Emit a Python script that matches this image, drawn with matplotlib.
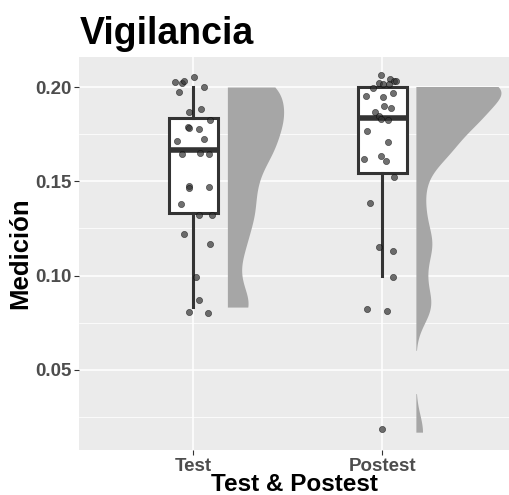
import numpy as np
import matplotlib
matplotlib.use("Agg")
import matplotlib.pyplot as plt
from matplotlib.ticker import MultipleLocator

plt.rcParams["font.family"] = ["Liberation Sans", "DejaVu Sans"]

groups = ["Test", "Postest"]

test_vals = [0.2000, 0.2000, 0.2000, 0.2000, 0.2000, 0.2000, 0.1833, 0.1833,
             0.1833, 0.1833, 0.1833, 0.1833, 0.1667, 0.1667, 0.1667, 0.1667,
             0.1667, 0.1500, 0.1500, 0.1500, 0.1333, 0.1333, 0.1333, 0.1167,
             0.1167, 0.1000, 0.0833, 0.0833, 0.0833]
post_vals = [0.2000, 0.2000, 0.2000, 0.2000, 0.2000, 0.2000, 0.2000, 0.2000,
             0.2000, 0.2000, 0.2000, 0.1833, 0.1833, 0.1833, 0.1833, 0.1833,
             0.1833, 0.1833, 0.1667, 0.1667, 0.1667, 0.1667, 0.1500, 0.1333,
             0.1167, 0.1167, 0.1000, 0.0833, 0.0833, 0.0167]

# jitter de los puntos
test_dx = [-0.095, -0.059, -0.051, 0.002, -0.077, 0.054, -0.021, 0.041,
           0.089, -0.030, -0.021, 0.028, -0.089, 0.054, -0.059, 0.037,
           0.081, -0.021, -0.021, 0.081, -0.065, 0.032, 0.098, -0.047,
           0.089, 0.014, 0.032, -0.025, 0.077]
test_dy = [0.0028, 0.0020, 0.0033, 0.0055, -0.0025, -0.0002, 0.0036, 0.0049,
           -0.0008, -0.0047, -0.0052, -0.0054, 0.0048, 0.0059, -0.0022, -0.0019,
           -0.0022, -0.0023, -0.0037, -0.0030, 0.0047, -0.0013, -0.0013, 0.0055,
           -0.0001, -0.0006, 0.0036, -0.0028, -0.0031]
post_dx = [-0.007, 0.041, 0.063, 0.072, -0.019, 0.005, 0.037, -0.051,
           -0.089, 0.002, 0.054, 0.011, 0.046, -0.038, -0.019, -0.007,
           0.032, -0.081, 0.032, -0.098, -0.007, 0.019, 0.063, -0.065,
           -0.016, 0.054, 0.058, -0.081, 0.026, -0.004]
post_dy = [0.0064, 0.0041, 0.0033, 0.0032, 0.0020, 0.0016, 0.0016, -0.0007,
           -0.0046, -0.0051, -0.0030, 0.0066, 0.0057, 0.0033, 0.0013, -0.0003,
           -0.0008, -0.0065, 0.0041, -0.0049, -0.0034, -0.0058, 0.0023, 0.0050,
           -0.0017, -0.0037, -0.0006, -0.0012, -0.0019, 0.0021]

all_vals = [test_vals, post_vals]
all_dx = [test_dx, post_dx]
all_dy = [test_dy, post_dy]


def kde(data, grid, adjust=0.6):
    data = np.asarray(data)
    sd = data.std(ddof=1)
    iqr = np.subtract(*np.percentile(data, [75, 25]))
    bw = adjust * 0.9 * min(sd, iqr / 1.34) * len(data) ** -0.2
    z = (grid[:, None] - data[None, :]) / bw
    return np.exp(-0.5 * z ** 2).sum(axis=1) / (len(data) * bw * np.sqrt(2 * np.pi))


fig = plt.figure(figsize=(5.09, 4.95), dpi=100)
ax = fig.add_axes([0.1552, 0.0909, 0.8448, 0.7939])
ax.set_facecolor("#EBEBEB")

# violines (media mitad, recortados al rango de los datos)
grids = []
dens = []
for v in all_vals:
    g = np.linspace(min(v), max(v), 512)
    grids.append(g)
    dens.append(kde(v, g))
dmax = max(d.max() for d in dens)
for i in range(2):
    x0 = i + 1 + 0.18
    w = 0.45 * dens[i] / dmax
    ax.fill_betweenx(grids[i], x0, x0 + w, where=w > 0.003,
                     color="#A6A6A6", lw=0, zorder=2)

# cajas
ax.boxplot(all_vals, positions=[1, 2], widths=0.26, patch_artist=True,
           showcaps=False, showfliers=False, whis=1.5,
           boxprops=dict(facecolor="white", edgecolor="#333333", linewidth=2.2),
           medianprops=dict(color="#333333", linewidth=4),
           whiskerprops=dict(color="#333333", linewidth=2.2),
           zorder=3)

# puntos
for i in range(2):
    ax.scatter(np.array(all_dx[i]) + i + 1,
               np.array(all_vals[i]) + np.array(all_dy[i]), s=20,
               facecolor="#333333", edgecolor="black", linewidth=0.4,
               alpha=0.7, zorder=4)

ax.set_xlim(0.395, 2.670)
ax.set_ylim(0.0075, 0.2159)
ax.set_xticks([1, 2])
ax.set_xticklabels(groups)
ax.yaxis.set_minor_locator(MultipleLocator(0.025))
ax.set_yticks([0.05, 0.10, 0.15, 0.20])
ax.set_yticklabels(["0.05", "0.10", "0.15", "0.20"])

ax.grid(which="major", color="white", linewidth=1.1, zorder=0)
ax.grid(which="minor", axis="y", color="white", linewidth=0.55, zorder=0)
ax.set_axisbelow(True)
for s in ax.spines.values():
    s.set_visible(False)
ax.tick_params(which="major", length=3.5, width=0.8, color="#333333",
               labelsize=13.5, labelcolor="#4D4D4D", pad=2)
ax.tick_params(which="minor", length=0)
for lab in ax.get_xticklabels() + ax.get_yticklabels():
    lab.set_fontweight("bold")

ax.set_xlabel("Test & Postest", fontsize=17.5, fontweight="bold", labelpad=-1)
ax.set_ylabel("Medición", fontsize=18.5, fontweight="bold", labelpad=2)
fig.text(0.157, 0.911, "Vigilancia", fontsize=27, fontweight="bold",
         ha="left", va="baseline")

fig.savefig("out.png", dpi=100)
